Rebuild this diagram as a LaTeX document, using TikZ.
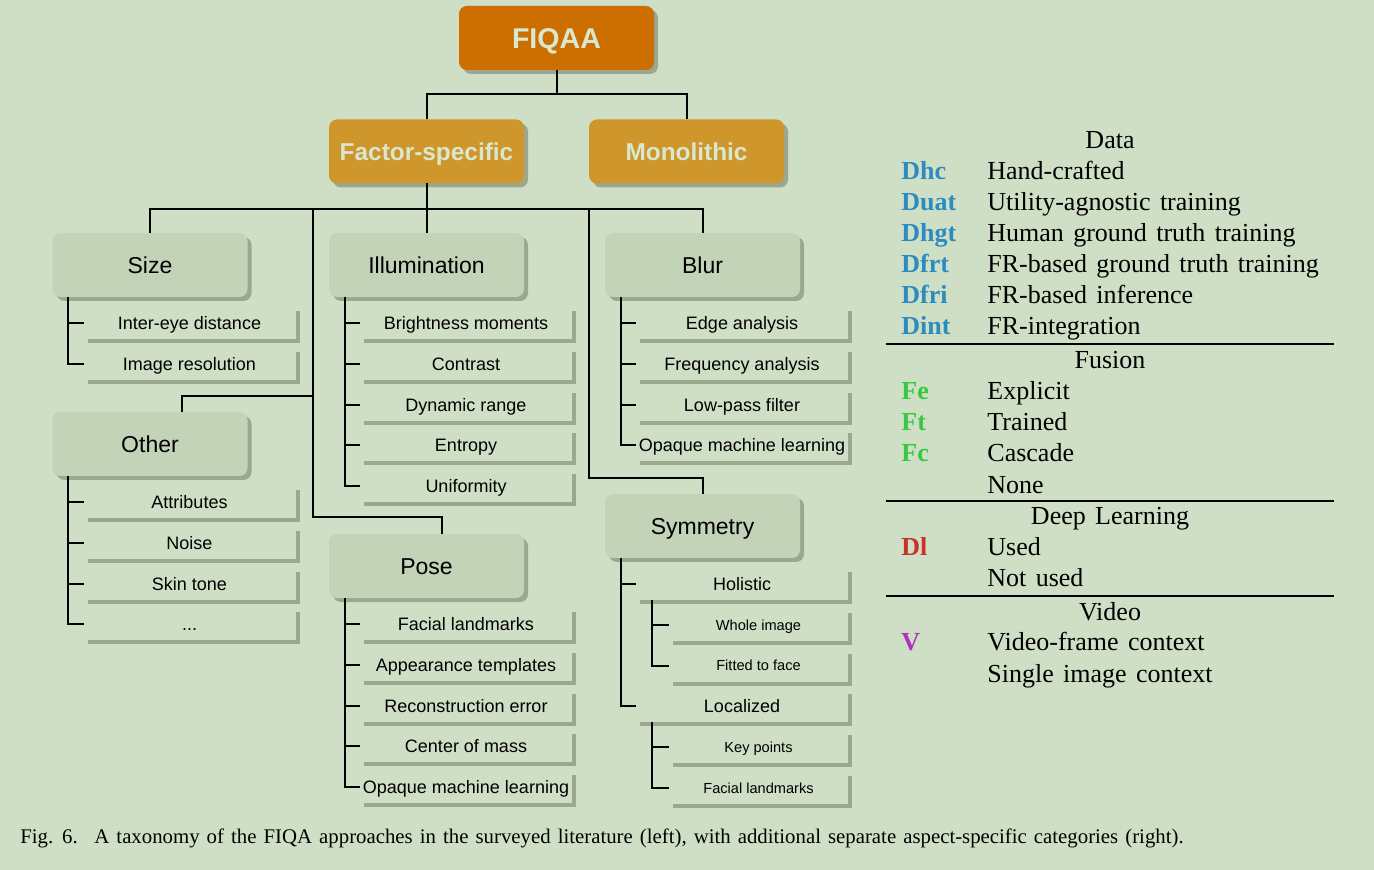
\documentclass[tikz,border=0pt]{standalone}
\usepackage{fontspec}
\setmainfont{Liberation Serif}
\setsansfont{Liberation Sans}
\usepackage{tikz}
\usetikzlibrary{positioning,shadows}
\definecolor{bggreen}{HTML}{CFDFC5}
\definecolor{catgreen}{HTML}{C2D3B8}
\definecolor{shadowgreen}{HTML}{9CA78F}
\definecolor{rootorange}{HTML}{CC6E00}
\definecolor{midorange}{HTML}{CF962C}
\definecolor{labelgreen}{HTML}{D8E7CE}
\definecolor{datablue}{HTML}{2C8CC0}
\definecolor{fusiongreen}{HTML}{38C840}
\definecolor{dlred}{HTML}{C83228}
\definecolor{vidpurple}{HTML}{B030C0}
\newcommand{\tabfont}{\fontsize{13}{15}\selectfont\spaceskip=.36em\relax}
\newcommand{\capfont}{\fontsize{10.4}{12}\selectfont\spaceskip=.34em\relax}

\begin{document}
\begin{tikzpicture}[x=0.5pt,y=-0.5pt,
  shade/.style={drop shadow={shadow xshift=2pt,shadow yshift=-2pt,fill=shadowgreen,opacity=1}},
  box/.style={rectangle,rounded corners=4pt,minimum width=97.5pt,minimum height=32pt,inner sep=1pt,outer sep=0pt,align=center,shade},
  root/.style={box,fill=rootorange,text=labelgreen,text height=10.6pt,text depth=0pt,font=\sffamily\bfseries\fontsize{14.3}{16}\selectfont},
  branch/.style={box,fill=midorange,text=labelgreen,text height=8.7pt,text depth=0pt,font=\sffamily\bfseries\fontsize{12.2}{14}\selectfont},
  category/.style={box,fill=catgreen,text height=8.2pt,text depth=0pt,font=\sffamily\fontsize{11.5}{13}\selectfont},
  leaf/.style={rectangle,fill=bggreen,minimum width=106pt,minimum height=16pt,inner sep=1pt,outer sep=0pt,text height=6.5pt,text depth=0pt,font=\sffamily\fontsize{9}{11}\selectfont,shade},
  subleaf/.style={leaf,minimum width=89.5pt,text height=5.3pt,font=\sffamily\fontsize{7.3}{9}\selectfont},
  tree/.style={line width=1pt},
  rule/.style={line width=0.6pt},
  abbr/.style={anchor=base west,inner sep=0pt,font=\bfseries\fontsize{13}{15}\selectfont},
  desc/.style={anchor=base west,inner sep=0pt,font=\tabfont},
  head/.style={anchor=base,inner sep=0pt,font=\tabfont}
]
\fill[bggreen] (0,0) rectangle (1374,870);
\useasboundingbox (0,0) rectangle (1374,870);

% Top levels
\node[root] (fiqaa) at (556.5,38) {FIQAA};
\node[branch] (factor) at (426.5,151.5) {Factor-specific};
\node[branch] (mono) at (686.5,151.5) {Monolithic};

% Factor categories
\node[category] (size) at (150,265) {Size};
\node[category] (illum) at (426.5,265) {Illumination};
\node[category] (blur) at (702.5,265) {Blur};
\node[category] (other) at (150,444) {Other};
\node[category] (pose) at (426.5,566) {Pose};
\node[category] (sym) at (702.5,526) {Symmetry};

% Size leaves
\node[leaf,below right=5pt and 15.5pt of size.south west] (sz1) {Inter-eye distance};
\node[leaf,below=4.4pt of sz1] (sz2) {Image resolution};

% Illumination leaves
\node[leaf,below right=5pt and 15.5pt of illum.south west] (il1) {Brightness moments};
\node[leaf,below=4.4pt of il1] (il2) {Contrast};
\node[leaf,below=4.4pt of il2] (il3) {Dynamic range};
\node[leaf,below=4.4pt of il3] (il4) {Entropy};
\node[leaf,below=4.4pt of il4] (il5) {Uniformity};

% Blur leaves
\node[leaf,below right=5pt and 15.5pt of blur.south west] (bl1) {Edge analysis};
\node[leaf,below=4.4pt of bl1] (bl2) {Frequency analysis};
\node[leaf,below=4.4pt of bl2] (bl3) {Low-pass filter};
\node[leaf,below=4.4pt of bl3] (bl4) {Opaque machine learning};

% Other leaves
\node[leaf,below right=5pt and 15.5pt of other.south west] (ot1) {Attributes};
\node[leaf,below=4.4pt of ot1] (ot2) {Noise};
\node[leaf,below=4.4pt of ot2] (ot3) {Skin tone};
\node[leaf,below=4.4pt of ot3] (ot4) {...};

% Pose leaves
\node[leaf,below right=5pt and 15.5pt of pose.south west] (po1) {Facial landmarks};
\node[leaf,below=4.4pt of po1] (po2) {Appearance templates};
\node[leaf,below=4.4pt of po2] (po3) {Reconstruction error};
\node[leaf,below=4.4pt of po3] (po4) {Center of mass};
\node[leaf,below=4.4pt of po4] (po5) {Opaque machine learning};

% Symmetry leaves
\node[leaf,below right=5pt and 15.5pt of sym.south west] (sy1) {Holistic};
\node[subleaf,below right=4.4pt and 16.5pt of sy1.south west] (sy2) {Whole image};
\node[subleaf,below=4.4pt of sy2] (sy3) {Fitted to face};
\node[leaf,below=45.2pt of sy1] (sy4) {Localized};
\node[subleaf,below right=4.4pt and 16.5pt of sy4.south west] (sy5) {Key points};
\node[subleaf,below=4.4pt of sy5] (sy6) {Facial landmarks};

% Connectors between levels
\coordinate (j0) at (556.5,94);
\coordinate (j1) at (426.5,209);
\coordinate (kp) at (313,209);
\coordinate (ks) at (589,209);
\coordinate (ko) at (182,396);
\draw[tree] (fiqaa.south) -- (j0);
\draw[tree] (factor.north) |- (j0) -| (mono.north);
\draw[tree] (factor.south) -- (illum.north);
\draw[tree] (size.north) |- (j1) -| (blur.north);
\draw[tree] (kp) |- ([xshift=7.75pt,yshift=8.5pt]pose.north) -- ([xshift=7.75pt]pose.north);
\draw[tree] (ko -| kp) -| (ko |- other.north);
\draw[tree] (ks) |- ([yshift=8pt]sym.north) -- (sym.north);

% Leaf trees
\draw[tree] ([xshift=7.5pt]size.south west) |- (sz1.west);
\draw[tree] ([xshift=7.5pt]size.south west) |- (sz2.west);
\draw[tree] ([xshift=7.75pt]illum.south west) |- (il1.west);
\draw[tree] ([xshift=7.75pt]illum.south west) |- (il2.west);
\draw[tree] ([xshift=7.75pt]illum.south west) |- (il3.west);
\draw[tree] ([xshift=7.75pt]illum.south west) |- (il4.west);
\draw[tree] ([xshift=7.75pt]illum.south west) |- (il5.west);
\draw[tree] ([xshift=8pt]blur.south west) |- (bl1.west);
\draw[tree] ([xshift=8pt]blur.south west) |- (bl2.west);
\draw[tree] ([xshift=8pt]blur.south west) |- (bl3.west);
\draw[tree] ([xshift=8pt]blur.south west) |- (bl4.west);
\draw[tree] ([xshift=7.5pt]other.south west) |- (ot1.west);
\draw[tree] ([xshift=7.5pt]other.south west) |- (ot2.west);
\draw[tree] ([xshift=7.5pt]other.south west) |- (ot3.west);
\draw[tree] ([xshift=7.5pt]other.south west) |- (ot4.west);
\draw[tree] ([xshift=7.75pt]pose.south west) |- (po1.west);
\draw[tree] ([xshift=7.75pt]pose.south west) |- (po2.west);
\draw[tree] ([xshift=7.75pt]pose.south west) |- (po3.west);
\draw[tree] ([xshift=7.75pt]pose.south west) |- (po4.west);
\draw[tree] ([xshift=7.75pt]pose.south west) |- (po5.west);
\draw[tree] ([xshift=8pt]sym.south west) |- (sy1.west);
\draw[tree] ([xshift=8pt]sym.south west) |- (sy4.west);
\draw[tree] ([xshift=8pt]sy1.south west) |- (sy2.west);
\draw[tree] ([xshift=8pt]sy1.south west) |- (sy3.west);
\draw[tree] ([xshift=8pt]sy4.south west) |- (sy5.west);
\draw[tree] ([xshift=8pt]sy4.south west) |- (sy6.west);

% Aspect table (right)
\node[head] (hdata) at (1110,149) {Data};
\node[abbr,text=datablue] (dhc) at (901,180) {Dhc};
\node[desc] (thc) at (987,180) {Hand-crafted};
\node[abbr,text=datablue] (duat) at (901,211) {Duat};
\node[desc] (tuat) at (987,211) {Utility-agnostic training};
\node[abbr,text=datablue] (dhgt) at (901,242) {Dhgt};
\node[desc] (thgt) at (987,242) {Human ground truth training};
\node[abbr,text=datablue] (dfrt) at (901,273) {Dfrt};
\node[desc] (tfrt) at (987,273) {FR-based ground truth training};
\node[abbr,text=datablue] (dfri) at (901,304) {Dfri};
\node[desc] (tfri) at (987,304) {FR-based inference};
\node[abbr,text=datablue] (dint) at (901,335) {Dint};
\node[desc] (tint) at (987,335) {FR-integration};
\draw[rule] (886,344) -- (1334,344);

\node[head] (hfus) at (1110,369) {Fusion};
\node[abbr,text=fusiongreen] (fe) at (901,400) {Fe};
\node[desc] (tfe) at (987,400) {Explicit};
\node[abbr,text=fusiongreen] (ft) at (901,431) {Ft};
\node[desc] (tft) at (987,431) {Trained};
\node[abbr,text=fusiongreen] (fc) at (901,462) {Fc};
\node[desc] (tfc) at (987,462) {Cascade};
\node[desc] (tfn) at (987,494) {None};
\draw[rule] (886,501) -- (1334,501);

\node[head] (hdl) at (1110,525) {Deep Learning};
\node[abbr,text=dlred] (dl) at (901,556) {Dl};
\node[desc] (tdl) at (987,556) {Used};
\node[desc] (tndl) at (987,587) {Not used};
\draw[rule] (886,596) -- (1334,596);

\node[head] (hvid) at (1110,620) {Video};
\node[abbr,text=vidpurple] (vid) at (901,650) {V};
\node[desc] (tvid) at (987,650) {Video-frame context};
\node[desc] (tsgl) at (987,682) {Single image context};

% Caption
\node[anchor=base west,inner sep=0pt,font=\capfont] (cap) at (20,843)
  {Fig. 6.\hspace{0.8em}A taxonomy of the FIQA approaches in the surveyed literature (left), with additional separate aspect-specific categories (right).};

\end{tikzpicture}
\end{document}
